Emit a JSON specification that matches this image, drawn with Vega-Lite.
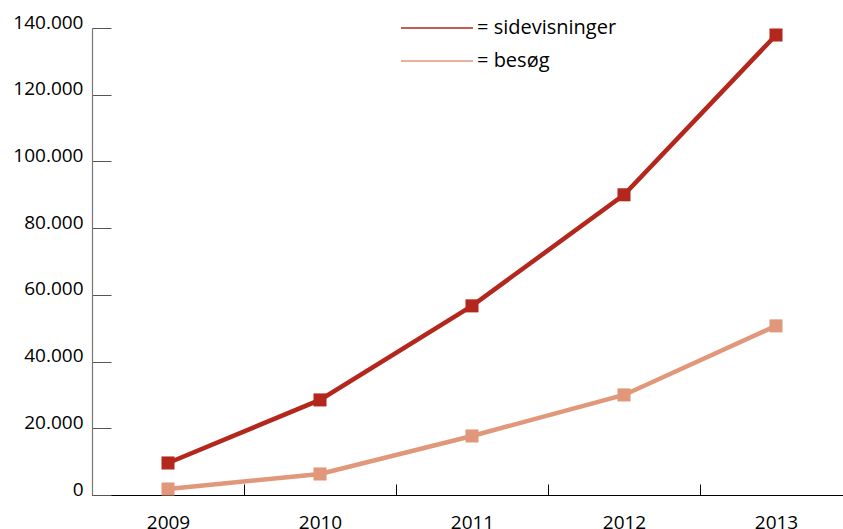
{
  "$schema": "https://vega.github.io/schema/vega-lite/v6.json",
  "width": 760,
  "height": 467,
  "autosize": "none",
  "padding": {"left": 92, "top": 28, "right": 0, "bottom": 34},
  "background": "white",
  "config": {
    "view": {"stroke": null},
    "font": "Open Sans"
  },
  "data": {
    "values": [
      {"year": "2009", "serie": "sidevisninger", "value": 9600},
      {"year": "2010", "serie": "sidevisninger", "value": 28500},
      {"year": "2011", "serie": "sidevisninger", "value": 56700},
      {"year": "2012", "serie": "sidevisninger", "value": 90000},
      {"year": "2013", "serie": "sidevisninger", "value": 137900},
      {"year": "2009", "serie": "besøg", "value": 1800},
      {"year": "2010", "serie": "besøg", "value": 6300},
      {"year": "2011", "serie": "besøg", "value": 17700},
      {"year": "2012", "serie": "besøg", "value": 30000},
      {"year": "2013", "serie": "besøg", "value": 50700}
    ]
  },
  "mark": {
    "type": "line",
    "strokeWidth": 4.5,
    "point": {"shape": "square", "size": 170, "filled": true, "opacity": 1}
  },
  "encoding": {
    "x": {
      "field": "year",
      "type": "ordinal",
      "scale": {"type": "band", "paddingInner": 0, "paddingOuter": 0},
      "axis": {
        "title": null,
        "labelAngle": 0,
        "tickBand": "extent",
        "tickSize": -11,
        "tickColor": "#000",
        "domainColor": "#000",
        "domainWidth": 1.2,
        "labelPadding": 29,
        "labelFontSize": 19,
        "labelColor": "#000",
        "grid": false
      }
    },
    "y": {
      "field": "value",
      "type": "quantitative",
      "scale": {"domain": [0, 140000], "nice": false},
      "axis": {
        "title": null,
        "values": [0, 20000, 40000, 60000, 80000, 100000, 120000, 140000],
        "labelExpr": "replace(format(datum.value, ','), ',', '.')",
        "tickSize": -19,
        "tickColor": "#555",
        "domainColor": "#777",
        "domainWidth": 1.2,
        "labelPadding": 28,
        "labelOffset": -6,
        "labelFontSize": 19,
        "labelColor": "#000",
        "grid": false
      }
    },
    "color": {
      "field": "serie",
      "type": "nominal",
      "scale": {"domain": ["sidevisninger", "besøg"], "range": ["#b3271d", "#e0977a"]},
      "legend": {
        "title": null,
        "orient": "none",
        "legendX": 308,
        "legendY": -16.5,
        "symbolType": "stroke",
        "symbolSize": 5184,
        "symbolStrokeWidth": 1.6,
        "clipHeight": 33,
        "labelExpr": "'= ' + datum.label",
        "labelFontSize": 20,
        "labelColor": "#000",
        "labelOffset": 3,
        "rowPadding": 0
      }
    }
  }
}
